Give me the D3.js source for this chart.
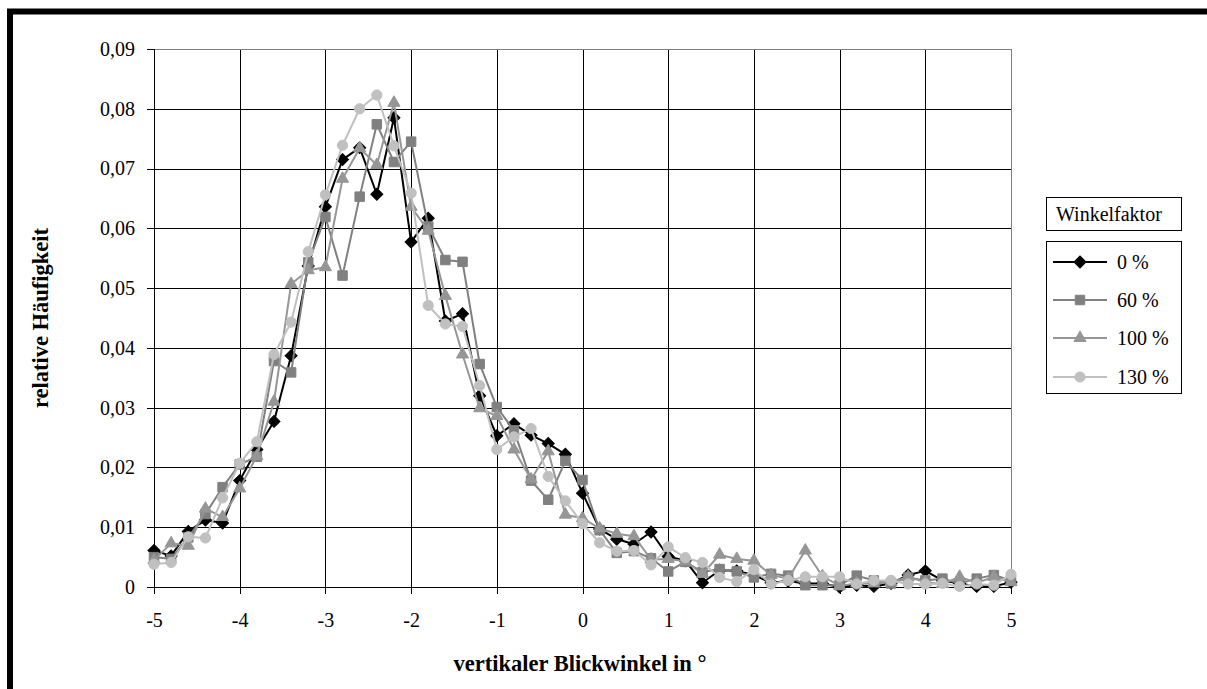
<!DOCTYPE html>
<html>
<head>
<meta charset="utf-8">
<script src="https://cdn.jsdelivr.net/npm/d3@7"></script>
<style>
  html, body { margin: 0; padding: 0; background: #fff; }
  svg { display: block; }
  text { font-family: "Liberation Serif", "Times New Roman", serif; fill: #000; }
</style>
</head>
<body>
<svg id="chart" width="1207" height="689"></svg>
<script>
// vertical gaze angle in degrees, 0.2° bins
const angles = d3.range(51).map(i => +(-5 + i * 0.2).toFixed(1));

const seriesNames = ["0 %", "60 %", "100 %", "130 %"];

const freq0 = [0.0061, 0.0052, 0.0093, 0.0112, 0.0107, 0.0178, 0.0230, 0.0277, 0.0387, 0.0537,
  0.0636, 0.0715, 0.0735, 0.0657, 0.0785, 0.0577, 0.0617, 0.0445, 0.0457, 0.0320,
  0.0253, 0.0273, 0.0254, 0.0240, 0.0222, 0.0157, 0.0097, 0.0080, 0.0072, 0.0092,
  0.0051, 0.0044, 0.0007, 0.0028, 0.0027, 0.0020, 0.0007, 0.0010, 0.0006, 0.0006,
  0.0000, 0.0003, 0.0001, 0.0006, 0.0020, 0.0027, 0.0011, 0.0006, 0.0001, 0.0001, 0.0008];

const freq60 = [0.0050, 0.0047, 0.0083, 0.0122, 0.0167, 0.0205, 0.0218, 0.0378, 0.0359, 0.0543,
  0.0619, 0.0521, 0.0653, 0.0774, 0.0711, 0.0745, 0.0603, 0.0547, 0.0544, 0.0373,
  0.0301, 0.0262, 0.0178, 0.0146, 0.0211, 0.0179, 0.0095, 0.0057, 0.0060, 0.0048,
  0.0026, 0.0042, 0.0025, 0.0030, 0.0026, 0.0016, 0.0022, 0.0019, 0.0003, 0.0003,
  0.0003, 0.0019, 0.0011, 0.0006, 0.0016, 0.0011, 0.0014, 0.0006, 0.0014, 0.0020, 0.0011];

const freq100 = [0.0045, 0.0073, 0.0069, 0.0131, 0.0117, 0.0165, 0.0219, 0.0310, 0.0507, 0.0530,
  0.0535, 0.0683, 0.0734, 0.0706, 0.0810, 0.0636, 0.0596, 0.0487, 0.0389, 0.0299,
  0.0286, 0.0230, 0.0180, 0.0227, 0.0121, 0.0115, 0.0098, 0.0089, 0.0085, 0.0046,
  0.0047, 0.0043, 0.0022, 0.0054, 0.0047, 0.0044, 0.0020, 0.0014, 0.0061, 0.0018,
  0.0002, 0.0006, 0.0006, 0.0008, 0.0017, 0.0008, 0.0005, 0.0017, 0.0007, 0.0017, 0.0008];

const freq130 = [0.0038, 0.0041, 0.0084, 0.0082, 0.0149, 0.0207, 0.0243, 0.0389, 0.0443, 0.0561,
  0.0656, 0.0739, 0.0800, 0.0823, 0.0738, 0.0659, 0.0471, 0.0440, 0.0436, 0.0337,
  0.0230, 0.0251, 0.0265, 0.0185, 0.0144, 0.0106, 0.0074, 0.0060, 0.0061, 0.0037,
  0.0067, 0.0049, 0.0041, 0.0016, 0.0009, 0.0029, 0.0005, 0.0011, 0.0017, 0.0017,
  0.0017, 0.0005, 0.0011, 0.0011, 0.0005, 0.0005, 0.0006, 0.0001, 0.0005, 0.0003, 0.0021];

const xTicks = [-5, -4, -3, -2, -1, 0, 1, 2, 3, 4, 5];
const yTicks = [0, 0.01, 0.02, 0.03, 0.04, 0.05, 0.06, 0.07, 0.08, 0.09];
const yTickLabels = ["0", "0,01", "0,02", "0,03", "0,04", "0,05", "0,06", "0,07", "0,08", "0,09"];

const seriesValues = [freq0, freq60, freq100, freq130];
// diamond = square turned by 45°
const seriesStyle = [
  { stroke: "#000000", fill: "#000000", symbol: d3.symbolSquare, size: 72, rot: 45 },
  { stroke: "#808080", fill: "#808080", symbol: d3.symbolSquare, size: 90, rot: 0 },
  { stroke: "#969696", fill: "#969696", symbol: d3.symbolTriangle, size: 64, rot: 0 },
  { stroke: "#c0c0c0", fill: "#c0c0c0", symbol: d3.symbolCircle, size: 82, rot: 0 }
];

const FONT = "Liberation Serif";
const svg = d3.select("#chart");

// outer frame
svg.append("rect")
  .attr("x", 10).attr("y", 11.5)
  .attr("width", 1400).attr("height", 900)
  .attr("fill", "none").attr("stroke", "#000").attr("stroke-width", 6);

const plot = { left: 154, right: 1011, top: 49, bottom: 587 };

const x = d3.scaleLinear().domain([-5, 5]).range([plot.left, plot.right]);
const y = d3.scaleLinear().domain([0, 0.09]).range([plot.bottom, plot.top]);

// grid
const grid = svg.append("g").attr("shape-rendering", "crispEdges");
grid.selectAll("line.h").data(yTicks.filter(v => v > 0 && v < 0.09)).join("line")
  .attr("x1", plot.left).attr("x2", plot.right)
  .attr("y1", d => Math.round(y(d)) + 0.5).attr("y2", d => Math.round(y(d)) + 0.5)
  .attr("stroke", "#000").attr("stroke-width", 1);
grid.selectAll("line.v").data(xTicks.filter(v => v > -5 && v < 5)).join("line")
  .attr("y1", plot.top).attr("y2", plot.bottom)
  .attr("x1", d => Math.round(x(d)) + 0.5).attr("x2", d => Math.round(x(d)) + 0.5)
  .attr("stroke", "#000").attr("stroke-width", 1);
// plot area border (top and right)
grid.append("path")
  .attr("d", `M${plot.left},${plot.top + 0.5}H${plot.right + 0.5}V${plot.bottom}`)
  .attr("fill", "none").attr("stroke", "#808080").attr("stroke-width", 1);

// axes
const xAxis = d3.axisBottom(x).tickValues(xTicks).tickSize(7).tickPadding(19)
  .tickFormat(d => (d < 0 ? "-" : "") + Math.abs(d));
const gx = svg.append("g").attr("transform", `translate(0,${plot.bottom})`).call(xAxis);
const yAxis = d3.axisLeft(y).tickValues(yTicks).tickSize(7).tickPadding(12)
  .tickFormat((d, i) => yTickLabels[i]);
const gy = svg.append("g").attr("transform", `translate(${plot.left},0)`).call(yAxis);
[gx, gy].forEach(g => {
  g.attr("font-family", FONT);
  g.select(".domain").attr("stroke", "#000").attr("shape-rendering", "crispEdges");
  g.selectAll(".tick line").attr("stroke", "#000").attr("shape-rendering", "crispEdges");
  g.selectAll(".tick text").attr("font-family", FONT).attr("font-size", 20).attr("fill", "#000");
});
gx.select(".domain").attr("d", `M${plot.left},0.5H${plot.right}`);
gy.select(".domain").attr("d", `M0.5,${plot.top}V${plot.bottom}`);

// axis titles
svg.append("text")
  .attr("x", 580).attr("y", 671)
  .attr("text-anchor", "middle")
  .attr("font-family", FONT)
  .attr("font-size", 22.5).attr("font-weight", "bold")
  .text("vertikaler Blickwinkel in °");
svg.append("text")
  .attr("transform", "translate(48,318) rotate(-90)")
  .attr("text-anchor", "middle")
  .attr("font-family", FONT)
  .attr("font-size", 22.5).attr("font-weight", "bold")
  .text("relative Häufigkeit");

// series: each line with its markers
const line = d3.line().x((d, i) => x(angles[i])).y(d => y(d));
seriesValues.forEach((vals, s) => {
  const st = seriesStyle[s];
  const g = svg.append("g");
  g.append("path").datum(vals)
    .attr("d", line)
    .attr("fill", "none").attr("stroke", st.stroke).attr("stroke-width", 2)
    .attr("stroke-linejoin", "round");
  g.selectAll("path.m").data(vals).join("path")
    .attr("class", "m")
    .attr("d", d3.symbol().type(st.symbol).size(st.size))
    .attr("transform", (d, i) => `translate(${x(angles[i])},${y(d)}) rotate(${st.rot})`)
    .attr("fill", st.fill).attr("stroke", st.stroke).attr("stroke-width", 1);
});

// legend
const lg = svg.append("g").attr("font-family", FONT);
lg.append("rect").attr("x", 1046.5).attr("y", 197.5).attr("width", 135).attr("height", 33)
  .attr("fill", "#fff").attr("stroke", "#000").attr("stroke-width", 1);
lg.append("text").attr("x", 1056).attr("y", 221).attr("font-size", 20).text("Winkelfaktor");
lg.append("rect").attr("x", 1046.5).attr("y", 241.5).attr("width", 135).attr("height", 152)
  .attr("fill", "#fff").attr("stroke", "#000").attr("stroke-width", 1);
const legendY = [262, 300, 338, 377];
seriesNames.forEach((name, s) => {
  const st = seriesStyle[s];
  const yy = legendY[s];
  lg.append("line").attr("x1", 1053).attr("x2", 1107).attr("y1", yy).attr("y2", yy)
    .attr("stroke", st.stroke).attr("stroke-width", 2);
  lg.append("path")
    .attr("d", d3.symbol().type(st.symbol).size(st.size))
    .attr("transform", `translate(1080,${yy}) rotate(${st.rot})`)
    .attr("fill", st.fill).attr("stroke", st.stroke).attr("stroke-width", 1);
  lg.append("text").attr("x", 1117).attr("y", yy + 7).attr("font-size", 20).text(name);
});
</script>
</body>
</html>
